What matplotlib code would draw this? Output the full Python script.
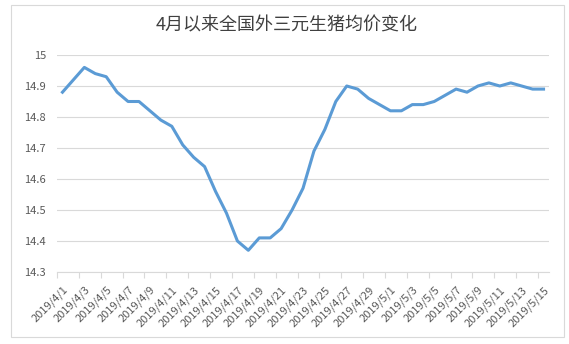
import numpy as np
import matplotlib
matplotlib.use("Agg")
import matplotlib.pyplot as plt
from matplotlib.patches import Rectangle

plt.rcParams['font.family'] = ['Noto Sans CJK SC', 'DejaVu Sans']

# daily dates 2019/4/1 .. 2019/5/15
dates = [f"2019/4/{d}" for d in range(1, 31)] + [f"2019/5/{d}" for d in range(1, 16)]

prices = [14.88, 14.92, 14.96, 14.94, 14.93, 14.88, 14.85, 14.85, 14.82, 14.79,
          14.77, 14.71, 14.67, 14.64, 14.56, 14.49, 14.40, 14.37, 14.41, 14.41,
          14.44, 14.50, 14.57, 14.69, 14.76, 14.85, 14.90, 14.89, 14.86, 14.84,
          14.82, 14.82, 14.84, 14.84, 14.85, 14.87, 14.89, 14.88, 14.90, 14.91,
          14.90, 14.91, 14.90, 14.89, 14.89]

title = "4月以来全国外三元生猪均价变化"
yticks = [14.3, 14.4, 14.5, 14.6, 14.7, 14.8, 14.9, 15.0]
ytick_labels = ["14.3", "14.4", "14.5", "14.6", "14.7", "14.8", "14.9", "15"]

fig = plt.figure(figsize=(5.69, 3.44), dpi=100)
fig.patch.set_facecolor("white")

# light chart-area border
fig.patches.append(Rectangle((11 / 569, 1 - 337 / 344), 553 / 569, 332 / 344,
                             transform=fig.transFigure, fill=False,
                             edgecolor="#d9d9d9", linewidth=0.8))

ax = fig.add_axes([57 / 569, 1 - 272 / 344, 492 / 569, 217 / 344])
x = np.arange(len(dates))
ax.plot(x, prices, color="#5b9bd5", linewidth=2.2, solid_joinstyle="round")

ax.set_xlim(-0.5, len(dates) - 0.5)
ax.set_ylim(14.3, 15.0)
ax.set_yticks(yticks)
ax.set_yticklabels(ytick_labels)
ax.yaxis.grid(True, color="#d9d9d9", linewidth=0.8)
ax.set_axisbelow(True)

ax.set_xticks(x[::2])
ax.set_xticklabels(dates[::2], rotation=45, ha="right", rotation_mode="anchor")
ax.set_xticks(np.arange(-0.5, len(dates) - 1, 2), minor=True)
ax.tick_params(axis="x", which="major", length=0, pad=9, labelsize=8, labelcolor="#595959")
ax.tick_params(axis="x", which="minor", length=4, color="#d9d9d9", width=0.8)
ax.tick_params(axis="y", length=0, pad=8, labelsize=8, labelcolor="#595959")

for s in ["top", "right", "left"]:
    ax.spines[s].set_visible(False)
ax.spines["bottom"].set_color("#d9d9d9")
ax.spines["bottom"].set_linewidth(0.8)

fig.text(287 / 569, 1 - 25 / 344, title, ha="center", va="center",
         fontsize=13, color="#404040")

fig.savefig("out.png", dpi=100)
